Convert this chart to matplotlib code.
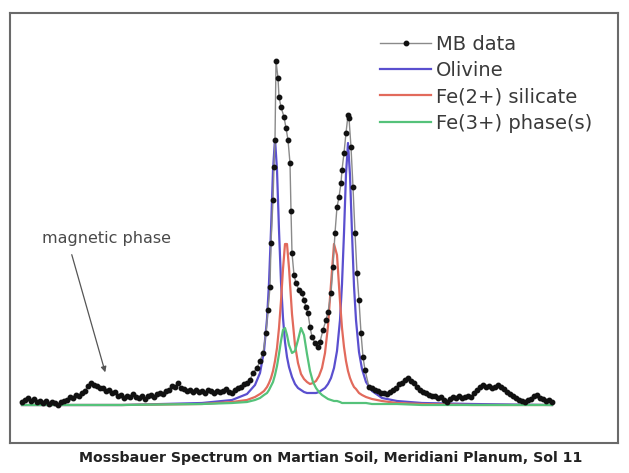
import matplotlib
matplotlib.use("Agg")
import matplotlib.pyplot as plt

# ---- MB data (channel, absorption %) ----
mb_channel = [0, 3, 6, 9, 12, 15, 18, 21, 24, 27, 30, 33, 36, 39, 42, 45, 48, 51, 54, 57, 60,
              63, 66, 69, 72, 75, 78, 81, 84, 87, 90, 93, 96, 99, 102, 105, 108, 111, 114, 117,
              120, 123, 126, 129, 132, 135, 138, 141, 144, 147, 150, 153, 156, 159, 162, 165,
              168, 171, 174, 177, 180, 183, 186, 189, 192, 195, 198, 201, 204, 207, 210, 213,
              216, 219, 222, 225, 228, 231, 235, 238, 241, 244, 246, 248, 249, 251, 252, 253,
              254, 256, 257, 259, 262, 264, 266, 268, 269, 270, 272, 274, 277, 280, 282, 284,
              286, 288, 290, 293, 296, 298, 301, 304, 306, 309, 311, 313, 315, 317, 319, 320,
              322, 324, 326, 327, 329, 331, 333, 335, 337, 339, 341, 343, 347, 350, 353, 356,
              359, 362, 365, 368, 371, 374, 377, 380, 383, 386, 389, 392, 395, 398, 401, 404,
              407, 410, 413, 416, 419, 422, 425, 428, 431, 434, 437, 440, 443, 446, 449, 452,
              455, 458, 461, 464, 467, 470, 473, 476, 479, 482, 485, 488, 491, 494, 497, 500,
              503, 506, 509, 512, 515, 518, 521, 524, 527, 530]
mb_value = [0.03, 0.05, 0.07, 0.04, 0.06, 0.03, 0.04, 0.02, 0.04, 0.01, 0.03, 0.02, 0.00, 0.03,
            0.04, 0.05, 0.08, 0.07, 0.10, 0.09, 0.12, 0.14, 0.19, 0.22, 0.20, 0.19, 0.17, 0.17,
            0.14, 0.15, 0.12, 0.13, 0.09, 0.10, 0.07, 0.09, 0.08, 0.11, 0.08, 0.07, 0.09, 0.06,
            0.09, 0.10, 0.08, 0.11, 0.12, 0.11, 0.14, 0.15, 0.19, 0.18, 0.22, 0.17, 0.16, 0.14,
            0.15, 0.13, 0.15, 0.13, 0.14, 0.12, 0.15, 0.14, 0.12, 0.14, 0.13, 0.14, 0.16, 0.13,
            0.12, 0.15, 0.17, 0.18, 0.21, 0.22, 0.25, 0.32, 0.37, 0.44, 0.52, 0.72, 0.95, 1.18,
            1.62, 2.05, 2.38, 2.65, 3.44, 3.27, 3.08, 2.98, 2.88, 2.77, 2.65, 2.42, 1.94, 1.52,
            1.30, 1.22, 1.15, 1.12, 1.05, 0.98, 0.92, 0.78, 0.68, 0.62, 0.58, 0.63, 0.75, 0.85,
            0.93, 1.12, 1.38, 1.72, 1.98, 2.08, 2.22, 2.35, 2.52, 2.72, 2.90, 2.87, 2.58, 2.18,
            1.72, 1.32, 1.05, 0.72, 0.48, 0.35, 0.18, 0.17, 0.15, 0.14, 0.12, 0.12, 0.11, 0.13,
            0.15, 0.17, 0.21, 0.22, 0.25, 0.27, 0.24, 0.22, 0.18, 0.15, 0.13, 0.12, 0.10, 0.09,
            0.09, 0.07, 0.08, 0.05, 0.03, 0.06, 0.08, 0.07, 0.09, 0.07, 0.08, 0.09, 0.08, 0.12,
            0.15, 0.18, 0.20, 0.18, 0.19, 0.17, 0.18, 0.20, 0.18, 0.16, 0.13, 0.11, 0.09, 0.07,
            0.05, 0.04, 0.03, 0.05, 0.06, 0.09, 0.10, 0.07, 0.06, 0.04, 0.05, 0.03]

# ---- fitted components (shared channel grid) ----
fit_channel = [0, 100, 180, 210, 225, 233, 238, 242, 245, 247, 249, 251, 253, 255, 257, 259,
               261, 263, 265, 267, 270, 273, 276, 279, 282, 285, 288, 291, 294, 297, 300, 303,
               306, 309, 312, 315, 318, 320, 322, 324, 326, 328, 330, 332, 334, 337, 340, 344,
               350, 360, 375, 400, 450, 530]
olivine = [0.00, 0.00, 0.02, 0.05, 0.11, 0.20, 0.32, 0.54, 0.86, 1.22, 1.75, 2.35, 2.66, 2.35,
           1.75, 1.23, 0.87, 0.63, 0.48, 0.38, 0.28, 0.21, 0.17, 0.15, 0.13, 0.12, 0.12, 0.12,
           0.12, 0.13, 0.15, 0.17, 0.21, 0.27, 0.37, 0.54, 0.85, 1.21, 1.72, 2.31, 2.62, 2.30,
           1.72, 1.19, 0.85, 0.53, 0.36, 0.23, 0.14, 0.07, 0.04, 0.02, 0.01, 0.00]
fe2_silicate = [0.00, 0.00, 0.01, 0.03, 0.05, 0.08, 0.11, 0.14, 0.18, 0.22, 0.27, 0.34, 0.44,
                0.57, 0.77, 1.04, 1.36, 1.61, 1.61, 1.37, 0.91, 0.60, 0.42, 0.31, 0.26, 0.23,
                0.21, 0.22, 0.24, 0.29, 0.37, 0.52, 0.79, 1.21, 1.61, 1.50, 1.04, 0.77, 0.58,
                0.44, 0.34, 0.27, 0.22, 0.18, 0.16, 0.12, 0.10, 0.08, 0.06, 0.04, 0.02, 0.01,
                0.00, 0.00]
fe3_phases = [0.00, 0.00, 0.01, 0.02, 0.03, 0.05, 0.07, 0.10, 0.12, 0.15, 0.19, 0.23, 0.30,
              0.39, 0.51, 0.64, 0.75, 0.77, 0.70, 0.60, 0.52, 0.54, 0.65, 0.77, 0.70, 0.51,
              0.34, 0.23, 0.17, 0.13, 0.10, 0.08, 0.06, 0.05, 0.04, 0.04, 0.03, 0.02, 0.02,
              0.02, 0.02, 0.02, 0.02, 0.02, 0.02, 0.02, 0.02, 0.02, 0.01, 0.01, 0.01, 0.00,
              0.00, 0.00]

legend_labels = ["MB data", "Olivine", "Fe(2+) silicate", "Fe(3+) phase(s)"]
annotation_text = "magnetic phase"
caption = "Mossbauer Spectrum on Martian Soil, Meridiani Planum, Sol 11"

plt.rcParams['font.family'] = ['DejaVu Sans']

fig = plt.figure(figsize=(6.29, 4.73), dpi=100)
ax = fig.add_axes([10 / 629, 1 - 443 / 473, 608 / 629, 430 / 473])

c_ol = '#5a4fcf'
c_red = '#e26a5c'
c_green = '#55c27a'

l_ol, = ax.plot(fit_channel, olivine, color=c_ol, lw=1.6, zorder=2)
l_red, = ax.plot(fit_channel, fe2_silicate, color=c_red, lw=1.6, zorder=2)
l_gr, = ax.plot(fit_channel, fe3_phases, color=c_green, lw=1.6, zorder=3)
l_mb, = ax.plot(mb_channel, mb_value, color='#8a8a8a', lw=1.0, marker='o', ms=3.2,
                mfc='#111111', mec='#111111', zorder=4)

ax.set_xlim(-12, 596)
ax.set_ylim(-0.38, 3.92)
ax.set_xticks([])
ax.set_yticks([])
for s in ax.spines.values():
    s.set_color('#6a6a6a')
    s.set_linewidth(1.5)

leg = ax.legend([l_mb, l_ol, l_red, l_gr], legend_labels, loc='upper left',
                bbox_to_anchor=(0.609, 0.95), frameon=False, fontsize=14,
                handlelength=2.6, handletextpad=0.25, labelspacing=0.38,
                borderpad=0, borderaxespad=0, numpoints=1)
for t in leg.get_texts():
    t.set_color('#3a3a3a')

ax.annotate("", xy=(84, 0.30), xytext=(49, 1.53),
            arrowprops=dict(arrowstyle='-|>', color='#555555', lw=0.9,
                            mutation_scale=8))
ax.text(20, 1.67, annotation_text, fontsize=11.5, color='#4a4a4a',
        ha='left', va='center')

fig.text(331 / 629, 1 - 458 / 473, caption, ha='center', va='center',
         fontsize=10.2, fontweight='bold', color='#222222')

fig.savefig('out.png', dpi=100)
